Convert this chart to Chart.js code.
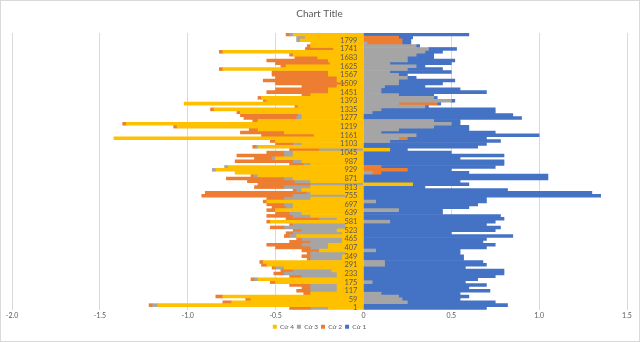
<!DOCTYPE html>
<html>
<head>
<meta charset="utf-8">
<script src="https://cdn.jsdelivr.net/npm/chart.js@4.4.1/dist/chart.umd.min.js"></script>
<style>
  html, body { margin: 0; padding: 0; background: #fff; }
  #wrap { width: 640px; height: 342px; position: relative; }
</style>
</head>
<body>
<div id="wrap"><canvas id="myChart"></canvas></div>
<script>
// category tick labels shown on the axis (every 58th row)
const tickLabels = [1, 59, 117, 175, 233, 291, 349, 407, 465, 523, 581, 639, 697, 755, 813, 871,
  929, 987, 1045, 1103, 1161, 1219, 1277, 1335, 1393, 1451, 1509, 1567, 1625, 1683, 1741, 1799];

// values, one entry per band of ~19 categories, bottom to top
const cu4 = [-0.2, -1.17, -0.75, -0.64, -0.8, -0.3, -0.15, -0.15, -0.15, -0.5,
  -0.6, -0.15, -0.15, -0.18, -0.45, -0.55, -0.57, -0.12, -0.12, -0.1,
  -0.25, -0.2, -0.2, -0.12, -0.12, -0.38, -0.12, -0.15, -0.1, -0.1,
  -0.53, -0.15, -0.3, -0.35, -0.5, -0.4, -0.4, -0.55, -0.3, -0.1,
  -0.3, -0.35, -0.3, 0.28, -0.3, -0.4, -0.6, -0.73, -0.84, -0.77,
  -0.3, -0.35, -0.5, -0.4, -0.4, 0.15, -0.6, -0.35, -0.5, -1.42,
  -0.28, -0.45, -0.6, -1.06, -1.35, -0.6, -0.35, -0.35, -0.7, -0.85,
  -0.37, -1.02, -0.55, -0.58, -0.3, -0.2, -0.2, -0.15, -0.1, -0.15,
  -0.15, -0.2, -0.2, -0.8, -0.44, -0.19, -0.2, -0.26, -0.4, -0.8,
  -0.17, -0.3, -0.3, -0.36, -0.33, -0.4];
const cu3 = [-0.1, -0.03, 0.25, 0.22, 0.2, 0.1, -0.15, -0.15, -0.15, 0.05,
  -0.02, -0.2, -0.3, -0.22, -0.05, 0.12, 0.12, -0.18, -0.18, -0.2,
  0.07, -0.1, -0.15, -0.18, -0.23, -0.04, -0.28, -0.2, -0.35, -0.3,
  0.15, -0.1, -0.1, -0.07, 0.2, -0.04, -0.05, 0.07, -0.15, -0.3,
  -0.02, -0.03, -0.15, -0.3, -0.09, -0.05, -0.02, 0.05, -0.02, -0.02,
  -0.04, -0.05, -0.02, -0.05, -0.05, -0.25, -0.01, -0.05, 0.15, 0.2,
  0.3, 0.1, 0.2, 0.4, 0.5, 0.4, -0.03, -0.02, 0.05, 0.1,
  0.35, 0.2, 0.5, 0.4, 0.2, 0.1, 0.1, 0.12, 0.2, 0.2,
  0.25, 0.2, 0.15, 0.25, 0.3, 0.15, 0.25, 0.25, 0.3, 0.35,
  0.37, 0.3, 0.02, -0.02, -0.05, -0.02];
const cu2 = [-0.12, -0.02, -0.05, -0.03, -0.04, -0.04, -0.08, -0.05, -0.12, -0.03,
  -0.02, -0.07, -0.06, -0.07, -0.02, -0.03, -0.02, -0.02, -0.05, -0.02,
  -0.1, -0.2, -0.2, -0.12, -0.03, -0.03, -0.04, -0.05, -0.08, -0.02,
  -0.02, -0.19, -0.15, -0.08, -0.05, -0.08, -0.1, -0.02, -0.1, -0.52,
  -0.58, -0.02, -0.17, -0.3, -0.27, -0.33, -0.02, 0.05, 0.25, 0.1,
  -0.08, -0.33, -0.1, -0.27, -0.1, -0.17, -0.02, -0.1, -0.03, 0.05,
  -0.3, -0.25, -0.05, -0.02, -0.02, -0.03, -0.3, -0.33, -0.02, -0.02,
  -0.02, 0.22, -0.02, -0.02, -0.05, -0.35, -0.3, -0.2, -0.4, -0.42,
  -0.35, -0.32, -0.32, -0.02, -0.03, -0.31, -0.35, -0.13, -0.02, -0.02,
  -0.16, -0.02, 0.2, 0.22, 0.2, -0.02];
const cu1 = [0.7, 0.82, 0.5, 0.33, 0.4, 0.45, 0.72, 0.6, 0.7, 0.53,
  0.65, 0.75, 0.8, 0.8, 0.58, 0.58, 0.56, 0.57, 0.57, 0.55,
  0.48, 0.7, 0.75, 0.68, 0.7, 0.85, 0.5, 0.75, 0.78, 0.7,
  0.6, 0.8, 0.78, 0.45, 0.25, 0.6, 0.65, 0.63, 0.7, 1.35,
  1.3, 0.82, 0.35, 0.32, 0.55, 1.05, 1.05, 0.5, 0.25, 0.65,
  0.8, 0.8, 0.55, 0.8, 0.5, 0.1, 0.65, 0.7, 0.63, 0.45,
  0.7, 0.65, 0.4, 0.2, 0.05, 0.15, 0.9, 0.85, 0.7, 0.65,
  0.02, 0.02, 0.02, 0.02, 0.2, 0.6, 0.45, 0.23, 0.25, 0.32,
  0.05, 0.05, 0.35, 0.2, 0.05, 0.35, 0.27, 0.15, 0.1, 0.1,
  0.16, 0.02, 0.05, 0.05, 0.08, 0.6];

// each band sits at a third of a label step
const rows = cu1.map((_, i) => 1 + i * 58 / 3);
const pts = (arr) => arr.map((v, i) => ({ x: v, y: rows[i] }));

const frame = {
  id: "frame",
  beforeDraw(chart) {
    const c = chart.ctx;
    c.save();
    c.fillStyle = "#fff";
    c.fillRect(0, 0, chart.width, chart.height);
    c.restore();
  },
  afterDraw(chart) {
    const c = chart.ctx;
    c.save();
    c.strokeStyle = "#d9d9d9";
    c.lineWidth = 1;
    c.strokeRect(0.5, 0.5, chart.width - 1, chart.height - 1);
    c.restore();
  },
};

Chart.defaults.font.family = "Lato, 'Liberation Sans', sans-serif";
Chart.defaults.color = "#595959";

var ctx = document.getElementById("myChart").getContext("2d");
var myChart = new Chart(ctx, {
  type: "bar",
  data: {
    datasets: [
      { label: "Cử 4", data: pts(cu4), backgroundColor: "#FFC000" },
      { label: "Cử 3", data: pts(cu3), backgroundColor: "#A5A5A5" },
      { label: "Cử 2", data: pts(cu2), backgroundColor: "#ED7D31" },
      { label: "Cử 1", data: pts(cu1), backgroundColor: "#4472C4" },
    ],
  },
  options: {
    indexAxis: "y",
    responsive: true,
    maintainAspectRatio: false,
    animation: false,
    devicePixelRatio: 1,
    barPercentage: 1,
    categoryPercentage: 1,
    borderWidth: 0,
    layout: { padding: { left: 12, right: 13, top: 0, bottom: 2 } },
    plugins: {
      title: {
        display: true,
        text: "Chart Title",
        font: { size: 10, weight: "normal" },
        color: "#595959",
        padding: { top: 8, bottom: 13 },
      },
      legend: {
        position: "bottom",
        labels: { boxWidth: 4, boxHeight: 4, padding: 3, font: { size: 6.5 } },
      },
      tooltip: { enabled: false },
    },
    scales: {
      x: {
        type: "linear",
        stacked: true,
        min: -2,
        max: 1.5,
        ticks: { stepSize: 0.5, font: { size: 7 }, padding: 1 },
        grid: { color: "#d9d9d9", drawTicks: false },
        border: { display: false },
      },
      y: {
        type: "linear",
        stacked: true,
        offset: false,
        min: -13,
        max: 1848,
        position: { x: -0.034 },
        afterBuildTicks: (scale) => {
          scale.ticks = tickLabels.map((v) => ({ value: v }));
        },
        ticks: { z: 1, font: { size: 7.5 }, callback: (v) => String(v), autoSkip: false },
        grid: { display: false, drawTicks: false, offset: false },
        border: { display: false },
      },
    },
  },
  plugins: [frame],
});
</script>
</body>
</html>
